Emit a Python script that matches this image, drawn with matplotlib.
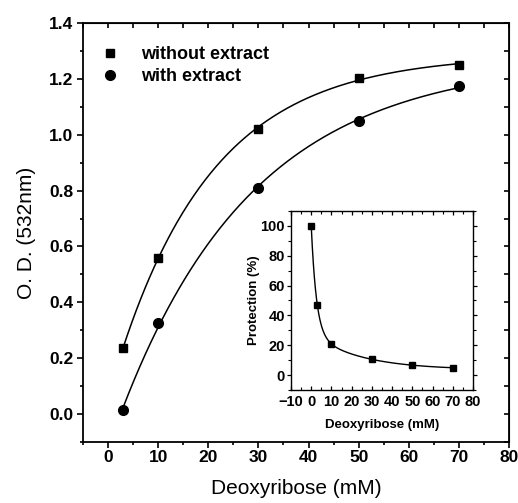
import numpy as np
import matplotlib
matplotlib.use("Agg")
import matplotlib.pyplot as plt
from matplotlib.ticker import MultipleLocator

plt.rcParams["font.family"] = ["Liberation Sans", "DejaVu Sans"]

# main plot data
conc = [3, 10, 30, 50, 70]
od_without = [0.236, 0.560, 1.022, 1.204, 1.250]
od_with = [0.015, 0.325, 0.810, 1.050, 1.174]

# inset data
conc_inset = [0, 3, 10, 30, 50, 70]
protection = [100, 47, 21, 10.5, 6.5, 5]


def fit_rise(x, y):
    # y = A - B*exp(-x/t), grid over t, linear least squares for A, B
    x = np.asarray(x, float)
    y = np.asarray(y, float)
    best = None
    for t in np.linspace(2, 80, 800):
        M = np.column_stack([np.ones_like(x), -np.exp(-x / t)])
        coef, *_ = np.linalg.lstsq(M, y, rcond=None)
        err = np.sum((M @ coef - y) ** 2)
        if best is None or err < best[0]:
            best = (err, t, coef)
    _, t, (a, b) = best
    return lambda xx: a - b * np.exp(-xx / t)


def fit_decay(x, y):
    # y = y0 + A1*exp(-x/t1) + A2*exp(-x/t2)
    x = np.asarray(x, float)
    y = np.asarray(y, float)
    best = None
    for t1 in np.linspace(0.5, 6, 60):
        for t2 in np.linspace(6, 40, 70):
            M = np.column_stack([np.ones_like(x), np.exp(-x / t1), np.exp(-x / t2)])
            coef, *_ = np.linalg.lstsq(M, y, rcond=None)
            if np.any(coef[1:] < 0):
                continue
            err = np.sum((M @ coef - y) ** 2)
            if best is None or err < best[0]:
                best = (err, t1, t2, coef)
    _, t1, t2, c = best
    return lambda xx: c[0] + c[1] * np.exp(-xx / t1) + c[2] * np.exp(-xx / t2)


fig = plt.figure(figsize=(5.18, 5.03), dpi=100)
ax = fig.add_axes([0.1602, 0.1213, 0.8224, 0.8330])

xs = np.linspace(conc[0], conc[-1], 300)
ax.plot(xs, fit_rise(conc, od_without)(xs), color="black", lw=1.1)
ax.plot(xs, fit_rise(conc, od_with)(xs), color="black", lw=1.1)
ax.plot(conc, od_without, "s", color="black", ms=6.3, label="without extract")
ax.plot(conc, od_with, "o", color="black", ms=7, label="with extract")

ax.set_xlim(-5, 80)
ax.set_ylim(-0.1, 1.4)
ax.xaxis.set_major_locator(MultipleLocator(10))
ax.xaxis.set_minor_locator(MultipleLocator(5))
ax.yaxis.set_major_locator(MultipleLocator(0.2))
ax.yaxis.set_minor_locator(MultipleLocator(0.1))
ax.yaxis.set_major_formatter(plt.FuncFormatter(lambda v, p: f"{v:.1f}"))
ax.tick_params(which="both", direction="out", top=False, right=False, width=1.2)
ax.tick_params(which="major", length=4.5, labelsize=12.5)
ax.tick_params(axis="x", which="major", pad=1.2)
ax.tick_params(axis="y", which="major", pad=2.5)
ax.tick_params(which="minor", length=2.5)
for lab in ax.get_xticklabels() + ax.get_yticklabels():
    lab.set_fontweight("bold")
for sp in ax.spines.values():
    sp.set_linewidth(1.3)

# inward ticks on top and right
sec_x = ax.secondary_xaxis("top")
sec_x.xaxis.set_major_locator(MultipleLocator(5))
sec_x.tick_params(direction="in", length=3.5, width=1.2, labeltop=False)
sec_y = ax.secondary_yaxis("right")
sec_y.yaxis.set_major_locator(MultipleLocator(0.1))
sec_y.tick_params(direction="in", length=3.5, width=1.2, labelright=False)

ax.set_xlabel("Deoxyribose (mM)", fontsize=15, labelpad=10)
ax.set_ylabel("O. D. (532nm)", fontsize=15, labelpad=9)

ax.legend(loc="upper left", frameon=False, prop={"size": 13, "weight": "bold"},
          handletextpad=1.1, borderaxespad=0.5, labelspacing=0.25,
          bbox_to_anchor=(0.0, 0.983), handlelength=1.2)

# inset
ins = fig.add_axes([0.5618, 0.2247, 0.3514, 0.3559])
xi = np.linspace(conc_inset[0], conc_inset[-1], 400)
ins.plot(xi, fit_decay(conc_inset, protection)(xi), color="black", lw=1.0)
ins.plot(conc_inset, protection, "s", color="black", ms=4.5)
ins.set_xlim(-10, 80)
ins.set_ylim(-10, 110)
ins.xaxis.set_major_locator(MultipleLocator(10))
ins.xaxis.set_minor_locator(MultipleLocator(5))
ins.yaxis.set_major_locator(MultipleLocator(20))
ins.yaxis.set_minor_locator(MultipleLocator(10))
ins.tick_params(axis="y", which="both", direction="out")
ins.tick_params(axis="x", which="both", direction="in", top=True)
ins.tick_params(axis="y", which="both", right=True)
ins.tick_params(which="major", length=3, width=0.9, labelsize=10.5)
ins.tick_params(axis="x", which="major", pad=3.5)
ins.tick_params(axis="y", which="major", pad=1.5)
ins.tick_params(which="minor", length=2, width=0.8)
for lab in ins.get_xticklabels() + ins.get_yticklabels():
    lab.set_fontweight("bold")
for sp in ins.spines.values():
    sp.set_linewidth(1.0)
ins.set_xlabel("Deoxyribose (mM)", fontsize=9.5, fontweight="bold", labelpad=7)
ins.set_ylabel("Protection (%)", fontsize=9.5, fontweight="bold", labelpad=0)

fig.savefig("out.png", dpi=100)
